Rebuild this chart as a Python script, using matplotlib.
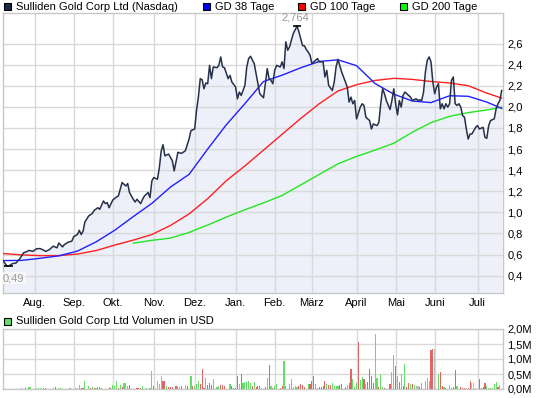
import numpy as np
import matplotlib
matplotlib.use("Agg")
import matplotlib.pyplot as plt
from matplotlib.patches import Rectangle

plt.rcParams['font.family'] = ['Liberation Sans', 'DejaVu Sans']
plt.rcParams['font.size'] = 8

# Kurs (Handelstage ab linkem Rand)
price_day = [0, 2, 3, 5, 7, 9, 11, 13, 14, 16, 18, 20, 22, 23, 25, 27, 29, 30, 32, 33,
             35, 37, 38, 40, 41, 42, 43, 44, 46, 48, 49, 51, 52, 54, 55, 56, 57, 59, 61, 62,
             64, 66, 67, 68, 70, 71, 72, 74, 75, 76, 78, 79, 80, 81, 83, 84, 85, 86, 87, 89,
             91, 92, 94, 96, 98, 100, 101, 103, 104, 105, 106, 107, 108, 109, 110, 111, 112,
             113, 115, 116, 117, 118, 119, 121, 122, 123, 125, 126, 127, 128, 130, 131, 132,
             133, 135, 136, 137, 138, 140, 141, 142, 143, 144, 145, 146, 147, 149, 150, 151,
             152, 153, 154, 155, 156, 158, 159, 161, 162, 163, 164, 165, 166, 168, 169, 170,
             172, 173, 174, 175, 177, 178, 179, 180, 182, 183, 185, 186, 187, 188, 189, 190,
             192, 193, 194, 195, 197, 198, 199, 201, 202, 203, 204, 205, 206, 208, 209, 210,
             211, 212, 213, 214, 215, 216, 217, 219, 220, 222, 223, 224, 225, 226, 227, 228,
             229, 230, 231, 232, 233, 234, 235, 236, 237, 238, 239, 240, 241, 242, 243, 244,
             245, 246, 247, 248, 249, 250, 251, 252, 254, 255, 256, 258, 259, 260, 261, 262,
             264, 265, 266, 267, 268]
price = [0.543, 0.495, 0.49, 0.514, 0.52, 0.56, 0.616, 0.63, 0.64, 0.63, 0.655, 0.657, 0.64,
         0.63, 0.648, 0.68, 0.664, 0.71, 0.673, 0.695, 0.717, 0.727, 0.77, 0.79, 0.83, 0.79,
         0.82, 0.908, 0.965, 0.99, 1.019, 1.044, 1.029, 1.108, 1.083, 1.092, 1.044, 1.117,
         1.146, 1.155, 1.283, 1.25, 1.273, 1.188, 1.124, 1.098, 1.124, 1.083, 1.124, 1.155,
         1.188, 1.14, 1.298, 1.33, 1.314, 1.42, 1.58, 1.641, 1.536, 1.552, 1.489, 1.393,
         1.569, 1.559, 1.584, 1.695, 1.774, 1.79, 1.965, 2.092, 2.267, 2.257, 2.171, 2.226,
         2.219, 2.393, 2.267, 2.378, 2.371, 2.393, 2.473, 2.378, 2.371, 2.267, 2.298, 2.235,
         2.188, 2.076, 2.14, 2.108, 2.203, 2.378, 2.457, 2.479, 2.41, 2.314, 2.219, 2.124,
         2.086, 2.219, 2.362, 2.267, 2.251, 2.219, 2.346, 2.393, 2.378, 2.426, 2.362, 2.616,
         2.536, 2.568, 2.632, 2.695, 2.764, 2.711, 2.58, 2.578, 2.543, 2.52, 2.489, 2.41,
         2.441, 2.457, 2.426, 2.426, 2.283, 2.346, 2.203, 2.155, 2.235, 2.378, 2.45, 2.33,
         2.283, 2.188, 2.045, 2.092, 2.029, 2.06, 1.886, 1.997, 2.029, 2.013, 1.902, 1.87,
         1.79, 1.838, 1.822, 1.854, 2.029, 2.171, 2.124, 2.06, 1.974, 2.06, 2.171, 2.029,
         1.924, 2.06, 1.997, 2.11, 2.14, 2.124, 2.092, 2.06, 2.076, 2.06, 2.067, 2.06, 2.14,
         2.33, 2.441, 2.473, 2.426, 2.235, 2.124, 2.188, 2.219, 1.981, 2.029, 1.981, 2.029,
         1.997, 2.029, 2.25, 2.283, 2.029, 2.013, 2.029, 1.997, 1.917, 1.902, 1.79, 1.695,
         1.743, 1.743, 1.806, 1.822, 1.79, 1.806, 1.711, 1.702, 1.822, 1.87, 1.886, 1.981,
         2.029, 2.06, 2.155]

# gleitende Durchschnitte
ma_day = [0, 10, 20, 30, 40, 50, 60, 70, 80, 90, 100, 110, 120, 130, 140, 150, 160, 170,
          180, 190, 200, 210, 220, 230, 240, 250, 260, 268]
gd38 = [0.543, 0.545, 0.565, 0.588, 0.633, 0.72, 0.83, 0.96, 1.085, 1.24, 1.36, 1.6, 1.83,
        2.03, 2.24, 2.3, 2.37, 2.43, 2.445, 2.39, 2.22, 2.12, 2.055, 2.04, 2.105, 2.1, 2.045,
        1.985]
gd100 = [0.61, 0.597, 0.59, 0.59, 0.605, 0.638, 0.69, 0.737, 0.79, 0.876, 0.985, 1.13, 1.3,
         1.44, 1.59, 1.74, 1.89, 2.03, 2.15, 2.21, 2.25, 2.27, 2.26, 2.24, 2.226, 2.2, 2.13,
         2.083]
gd200_day = [70, 80, 90, 100, 110, 120, 130, 140, 150, 160, 170, 180, 190, 200, 210, 220,
             230, 240, 250, 260, 268]
gd200 = [0.708, 0.735, 0.756, 0.81, 0.88, 0.955, 1.025, 1.09, 1.16, 1.26, 1.36, 1.46, 1.53,
         1.59, 1.655, 1.76, 1.85, 1.91, 1.945, 1.97, 1.997]

# Volumen in Mio USD; Richtung: u = hoch, d = runter, n = unveraendert
vol_day = [0, 10, 12, 14, 15, 18, 19, 20, 22, 23,
           27, 28, 30, 31, 36, 39, 40, 41, 42, 43,
           44, 46, 47, 48, 49, 50, 51, 52, 53, 57,
           58, 59, 60, 61, 62, 63, 64, 65, 66, 67,
           68, 72, 73, 74, 75, 77, 79, 80, 81, 83,
           84, 85, 86, 87, 88, 89, 90, 91, 93, 94,
           95, 96, 98, 99, 101, 102, 103, 104, 105, 106,
           107, 108, 109, 110, 111, 112, 113, 115, 116, 117,
           118, 119, 122, 123, 124, 125, 126, 127, 128, 129,
           130, 131, 132, 133, 134, 135, 136, 137, 138, 139,
           141, 142, 143, 144, 145, 146, 147, 149, 150, 151,
           152, 154, 155, 156, 157, 158, 159, 160, 161, 162,
           164, 165, 166, 167, 168, 169, 170, 171, 172, 173,
           174, 175, 176, 177, 178, 179, 180, 181, 182, 184,
           185, 186, 187, 188, 189, 190, 191, 192, 193, 194,
           195, 196, 197, 198, 199, 200, 201, 202, 203, 204,
           205, 208, 209, 210, 211, 212, 213, 214, 215, 216,
           217, 218, 219, 220, 221, 222, 223, 224, 225, 227,
           228, 229, 230, 231, 232, 234, 235, 236, 237, 238,
           240, 241, 242, 243, 244, 246, 247, 248, 249, 250,
           251, 252, 253, 254, 256, 257, 258, 259, 260, 261,
           262, 263, 264, 265, 266, 267]
vol = [0.02, 0.03, 0.03, 0.06, 0.06, 0.03, 0.03, 0.03, 0.03, 0.03,
       0.03, 0.06, 0.03, 0.03, 0.03, 0.03, 0.03, 0.13, 0.03, 0.03,
       0.26, 0.09, 0.03, 0.06, 0.03, 0.03, 0.06, 0.06, 0.03, 0.06,
       0.03, 0.13, 0.09, 0.26, 0.03, 0.13, 0.06, 0.19, 0.19, 0.09,
       0.13, 0.03, 0.03, 0.03, 0.09, 0.03, 0.03, 0.59, 0.09, 0.26,
       0.17, 0.45, 0.26, 0.26, 0.09, 0.06, 0.06, 0.06, 0.09, 0.09,
       0.06, 0.09, 0.15, 0.11, 0.43, 0.11, 0.11, 0.17, 0.28, 0.17,
       0.67, 0.03, 0.37, 0.15, 0.2, 0.15, 0.34, 0.06, 0.09, 0.15,
       0.15, 0.09, 0.17, 0.09, 0.03, 0.03, 0.43, 0.17, 0.5, 0.2,
       0.22, 0.22, 0.26, 0.2, 0.09, 0.22, 0.06, 0.09, 0.09, 0.03,
       0.06, 0.37, 0.81, 0.11, 0.03, 0.09, 0.17, 0.03, 0.11, 0.93,
       0.11, 0.17, 0.34, 0.06, 0.09, 0.06, 0.09, 0.17, 0.15, 0.06,
       0.17, 0.17, 0.28, 0.45, 0.17, 0.03, 0.06, 0.06, 0.09, 0.28,
       0.17, 0.13, 0.13, 0.2, 0.09, 0.09, 0.09, 0.13, 0.17, 0.06,
       0.13, 0.2, 0.67, 0.34, 0.06, 0.2, 1.57, 0.31, 0.39, 0.34,
       0.17, 0.22, 0.67, 0.45, 0.2, 1.85, 0.37, 0.06, 0.5, 0.06,
       0.03, 0.17, 0.56, 1.12, 0.76, 0.45, 0.22, 0.5, 0.11, 0.84,
       0.06, 0.2, 0.17, 0.17, 0.13, 0.09, 0.09, 0.06, 0.2, 0.28,
       0.37, 0.28, 1.29, 1.35, 1.35, 0.5, 0.58, 0.09, 0.06, 0.03,
       0.13, 0.03, 0.06, 0.62, 0.11, 0.06, 0.03, 0.03, 0.03, 0.03,
       0.28, 0.2, 0.2, 0.03, 0.34, 0.03, 0.06, 0.2, 0.11, 0.03,
       0.03, 0.03, 0.17, 0.25, 0.06, 0.13]
vol_dir = "".join(["nuduuuuudd", "uduuuuuudd", "uududuuduu", "duuududuuu",
                   "dddduuuudu", "uudduddddu", "udududuuud", "dduddduuud",
                   "dduddddudu", "uuuududddu", "dududuuddu", "uuuuuudddd",
                   "uddduudddd", "udduuuuddd", "udduuuduud", "udddduuduu",
                   "dduudududu", "ddudunnduu", "uuddnuddud", "unddudddnd",
                   "dnnndddduu", "uuuudu"])

month_names = ["Aug.", "Sep.", "Okt.", "Nov.", "Dez.", "Jan.", "Feb.", "März", "April",
               "Mai", "Juni", "Juli"]
month_day = [17, 38, 59, 81, 103, 125, 146, 166, 190, 211, 232, 255]

x_end = 268.7
y_range = (0.236, 2.889)

c_price = '#26304a'
c_fill = '#eef0f9'
c_grid = '#d9d9d9'
c_38 = '#2020ff'
c_100 = '#ff2020'
c_200 = '#22e622'
dir_col = {'u': '#66dd66', 'd': '#e06666', 'n': '#bbbbbb'}

W, H = 545, 398
fig = plt.figure(figsize=(W / 100, H / 100), dpi=100)


def box(l, t, r, b):
    return [l / W, 1 - b / H, (r - l) / W, (b - t) / H]


def comma(v, fmt):
    return fmt.format(v).replace('.', ',')


ax = fig.add_axes(box(3, 13, 503, 293))
axv = fig.add_axes(box(3, 329, 503, 389))

# Kurschart
ax.fill_between(price_day, price, y_range[0], color=c_fill, lw=0, zorder=1)
ax.plot(gd200_day, gd200, color=c_200, lw=1, zorder=3)
ax.plot(ma_day, gd100, color=c_100, lw=1, zorder=3)
ax.plot(ma_day, gd38, color=c_38, lw=1, zorder=3)
ax.plot(price_day, price, color=c_price, lw=1.1, zorder=4)

i_max = int(np.argmax(price))
i_min = int(np.argmin(price))
for i in (i_max, i_min):
    ax.plot([price_day[i] - 2.4, price_day[i] + 2.4], [price[i], price[i]],
            color='black', lw=1.2, zorder=5, solid_capstyle='butt')
ax.annotate(comma(price[i_max], "{:g}"), (price_day[i_max], price[i_max]),
            xytext=(-1.5, 2.5), textcoords='offset points', ha='center', va='bottom',
            color='#999999', zorder=6)
ax.annotate(comma(price[i_min], "{:g}"), (price_day[i_min], price[i_min]),
            xytext=(-4, -5), textcoords='offset points', ha='left', va='top',
            color='#999999', zorder=6,
            bbox=dict(facecolor='white', alpha=0.6, edgecolor='none', pad=1))

ax.set_xlim(0, x_end)
ax.set_ylim(*y_range)
ax.set_xticks(month_day)
ax.set_xticklabels(month_names)
yt = np.arange(0.4, 2.61, 0.2)
ax.set_yticks(yt)
ax.set_yticklabels([comma(v, "{:.1f}") for v in yt])
ax.yaxis.tick_right()
ax.tick_params(length=0)
ax.tick_params(axis='x', pad=3.5)
ax.tick_params(axis='y', pad=3)
ax.grid(True, color=c_grid, lw=1, zorder=2)

# Volumen
axv.bar(vol_day, np.array(vol) * 1e6, width=0.6, color=[dir_col[c] for c in vol_dir],
        lw=0, zorder=3)
axv.set_xlim(0, x_end)
axv.set_ylim(0, 2e6)
axv.set_xticks(month_day)
axv.set_xticklabels([])
vt = np.arange(0, 2.01e6, 0.5e6)
axv.set_yticks(vt)
axv.set_yticklabels([comma(v / 1e6, "{:.1f}") + "M" for v in vt])
axv.yaxis.tick_right()
axv.tick_params(length=0, pad=3)
axv.grid(True, color=c_grid, lw=1, zorder=1)

for a in (ax, axv):
    for s in a.spines.values():
        s.set_color('#c8c8c8')
        s.set_linewidth(1)


# Legenden oben
def legend_item(x, yc, col, text):
    s = 7
    fig.add_artist(Rectangle((x / W, 1 - (yc + s / 2) / H), s / W, s / H,
                             transform=fig.transFigure, facecolor=col,
                             edgecolor='black', lw=0.8))
    fig.text((x + 12) / W, 1 - yc / H, text, ha='left', va='center')


legend_item(4, 6.5, '#1c2848', "Sulliden Gold Corp Ltd (Nasdaq)")
legend_item(203, 6.5, '#0000ff', "GD 38 Tage")
legend_item(298, 6.5, '#ff0000', "GD 100 Tage")
legend_item(400, 6.5, '#00ff00', "GD 200 Tage")
legend_item(4, 321.5, '#66dd66', "Sulliden Gold Corp Ltd Volumen in USD")

fig.savefig("out.png", dpi=100)
